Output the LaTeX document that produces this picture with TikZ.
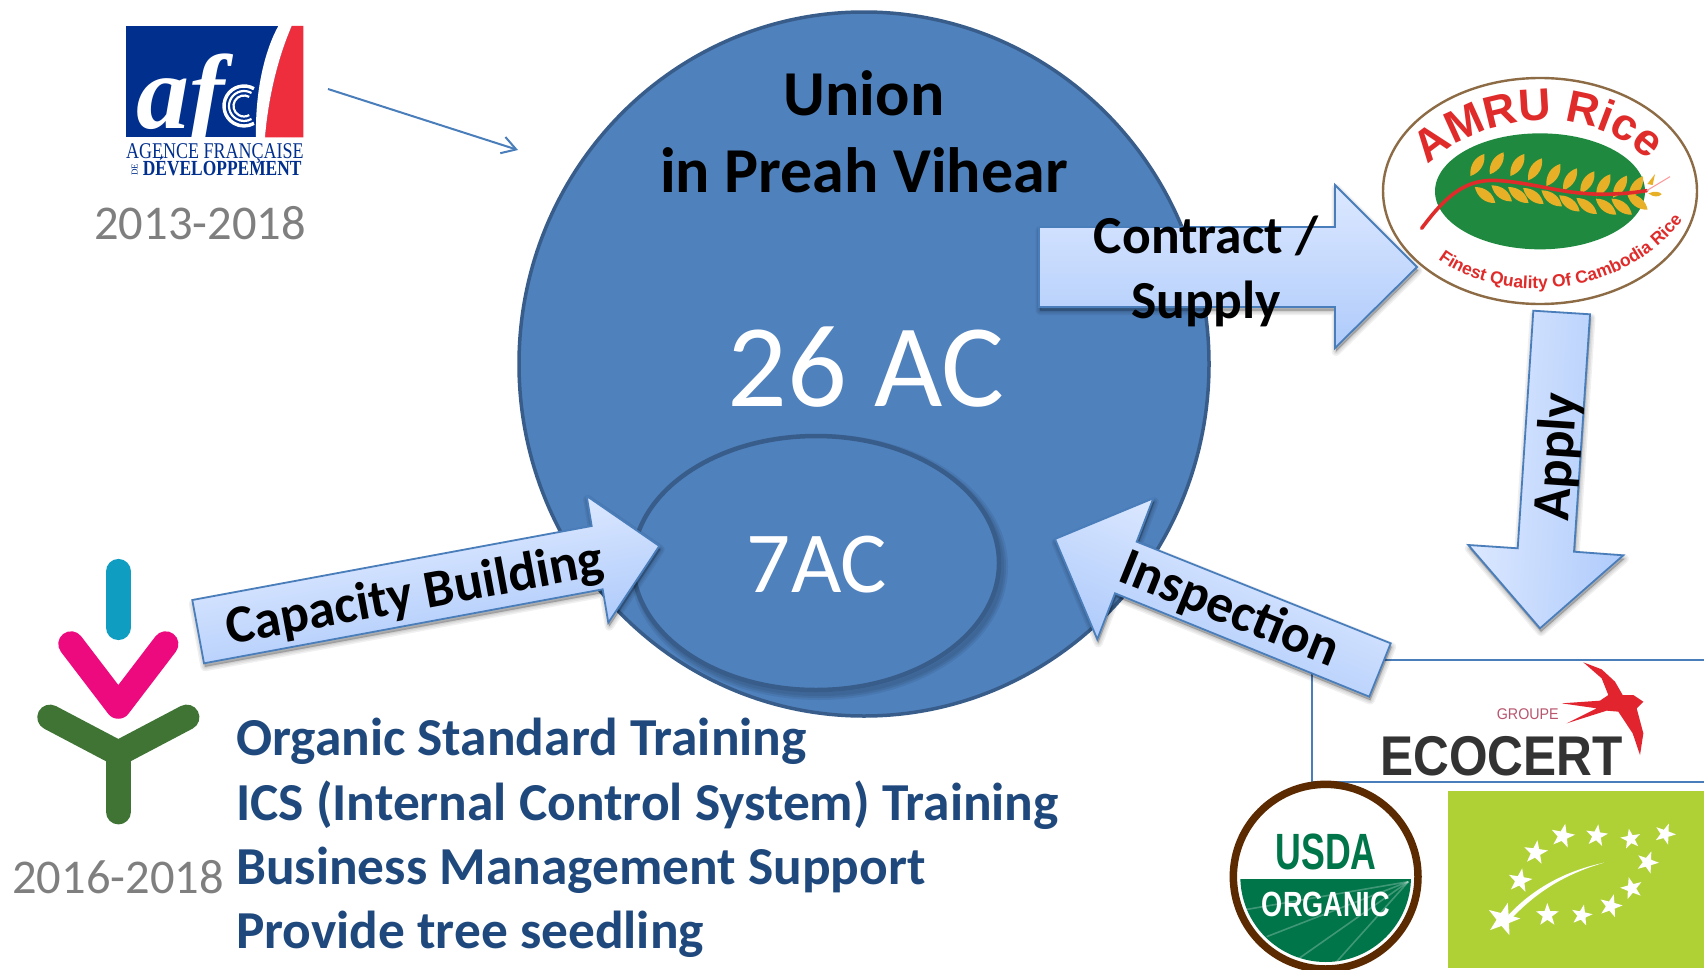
\documentclass[tikz,border=0pt]{standalone}
\usepackage{fontspec}
\setmainfont{Carlito}
\newfontfamily\libsans{Liberation Sans}
\newfontfamily\libserif{Liberation Serif}
\usetikzlibrary{shapes.geometric,decorations.text,arrows.meta}
\definecolor{circfill}{HTML}{4F81BD}
\definecolor{circline}{HTML}{385D8A}
\definecolor{armA}{HTML}{DCE8FF}
\definecolor{armB}{HTML}{AFCBFB}
\definecolor{armedge}{HTML}{4A7EBB}
\definecolor{navy}{HTML}{1F497D}
\definecolor{gtext}{HTML}{7F7F7F}
\definecolor{afdblue}{HTML}{002F8E}
\definecolor{afdred}{HTML}{EE2E3C}
\definecolor{amgreen}{HTML}{1F8A3F}
\definecolor{amred}{HTML}{E02B2B}
\definecolor{amgold}{HTML}{E8B026}
\definecolor{ambrown}{HTML}{8C6B45}
\definecolor{ecored}{HTML}{E2242F}
\definecolor{ecodark}{HTML}{333333}
\definecolor{ecomauve}{HTML}{B8566E}
\definecolor{usbrown}{HTML}{5C2A00}
\definecolor{usgreen}{HTML}{00754A}
\definecolor{eugreen}{HTML}{AFD136}
\definecolor{kteal}{HTML}{0F9DC2}
\definecolor{kpink}{HTML}{EC0A7E}
\definecolor{kgreen}{HTML}{3F7435}
\pgfdeclareverticalshading{shcontract}{1400bp}{color(0bp)=(armB);color(163bp)=(armA)}
\pgfdeclareverticalshading{shapply}{1400bp}{color(0bp)=(armB);color(155bp)=(armA)}
\pgfdeclareverticalshading{shcapacity}{1400bp}{color(0bp)=(armB);color(129bp)=(armA)}
\pgfdeclareverticalshading{shinspect}{1400bp}{color(0bp)=(armB);color(152bp)=(armA)}
\newcommand{\gradarrow}[5]{%
  \foreach \w in {9,6,3,1}{\draw[black,fill=black,opacity=.06,line width=\w pt,line join=round,shift={(1,3.5)}] #2;}
  \begin{scope}\clip #2; \node[rotate=#4,inner sep=0pt] (#1) at #3 {\pgfuseshading{#5}};\end{scope}
  \draw[armedge,line width=1.8pt,line join=miter] #2;}
\newcommand{\grain}[3]{\fill[amgold,shift={(#1,#2)},rotate=#3] (-13pt,0pt) .. controls (-4pt,7pt) and (6pt,6pt) .. (13pt,0pt) .. controls (6pt,-6pt) and (-4pt,-7pt) .. (-13pt,0pt);}
\tikzset{
  zoomed/.style args={#1/#2}{shift={(#1,#2)},x=.33333pt,y=-.33333pt},
  bigbold/.style={font=\fontsize{64}{76}\bfseries\selectfont,text=black,align=center,inner sep=0pt},
  armlabel/.style={font=\fontsize{53.5}{65}\bfseries\selectfont,text=black,align=center,inner sep=0pt},
  yearlabel/.style={font=\fontsize{48.5}{50}\selectfont,text=gtext,inner sep=0pt},
  starmark/.style={star,star points=5,star point ratio=2.5,fill=white,inner sep=0pt},
}
\begin{document}
\begin{tikzpicture}[x=1pt,y=-1pt]
\useasboundingbox (0,0) rectangle (1704,969);
\fill[white] (0,0) rectangle (1704,969);
\clip (0,0) rectangle (1704,969);

% main circle and inner ellipse
\node[ellipse,draw=circline,fill=circfill,line width=3.5pt,minimum width=690pt,minimum height=704pt,inner sep=0pt] (union) at (864,364) {};
\foreach \w in {12,8,4}{\draw[black,opacity=.07,line width=\w pt] (819,567) ellipse [x radius=183pt,y radius=127pt];}
\node[ellipse,draw=circline,fill=circfill,line width=4.5pt,minimum width=366pt,minimum height=254pt,inner sep=0pt] (seven) at (816,563) {};

% afd logo
\begin{scope}[zoomed=90/0]
  \fill[afdblue] (108,78) rectangle (640,412);
  \fill[afdred] (605,78) .. controls (565,170) and (535,290) .. (525,412) -- (640,412) -- (640,78) -- cycle;
  \node[anchor=base west,inner sep=0pt,text=white,font=\libserif\fontsize{106}{106}\bfseries\itshape\selectfont] (afdname) at (140,385) {af};
  \foreach \r/\lw in {20/3.4,15/2.2,10.5/2.2}{\draw[white,line width=\lw pt] ([shift={(462,318)}]60:\r pt) arc[start angle=60,end angle=300,radius=\r pt];}
  \fill[white] (565,78) .. controls (525,150) and (495,270) .. (498,412) -- (525,412) .. controls (535,290) and (565,170) .. (605,78) -- cycle;
  \node[anchor=base west,inner sep=0pt,text=afdblue,font=\libserif\fontsize{22.5}{22.5}\selectfont] (afdone) at (108,476) {\scalebox{.8}[1]{AGENCE FRANÇAISE}};
  \node[anchor=base west,inner sep=0pt,text=afdblue,font=\libserif\fontsize{21.5}{21.5}\bfseries\selectfont] (afdtwo) at (158,526) {\scalebox{.81}[1]{DÉVELOPPEMENT}};
  \node[rotate=90,inner sep=0pt,text=afdblue,font=\libserif\fontsize{9}{9}\selectfont] (afdde) at (134,510) {DE};
\end{scope}
\node[yearlabel] (yearone) at (200,223) {2013-2018};
\coordinate (linefrom) at (328,89);
\coordinate (lineto) at (518,150);
\draw[armedge,line width=2pt,-{Straight Barb[length=14pt,width=17pt,line width=2pt]}] (linefrom) -- (lineto);

% tree logo
\begin{scope}[zoomed=0/540,line cap=round,line join=round,line width=25.5pt]
  \draw[kteal] (355,95) -- (355,262);
  \draw[kpink] (213,312) -- (355,498) -- (497,312);
  \draw[kgreen] (150,532) -- (355,640) -- (560,532);
  \draw[kgreen] (355,640) -- (355,815);
\end{scope}
\node[yearlabel,anchor=base] (yeartwo) at (118,893) {2016-2018};

% AMRU Rice logo
\begin{scope}[zoomed=1360/60]
  \draw[ambrown,fill=white,line width=2.4pt] (540,393) ellipse [x radius=157pt,y radius=113pt];
  \fill[amgreen] (540,394) ellipse [x radius=105pt,y radius=58pt];
  \foreach \x/\y in {352/315,410/310,472/315,525/328,580/345,630/358,682/367,730/376,780/380,828/382}{\grain{\x}{\y}{58}}
  \foreach \x/\y in {375/405,425/400,475/405,520/408,575/415,628/430,680/438,738/440,785/440,832/425}{\grain{\x}{\y}{-38}}
  \draw[amred,line width=3.6pt,line cap=round] (185,505) .. controls (270,390) and (330,355) .. (420,362) .. controls (560,372) and (650,425) .. (860,392);
  \fill[amgold] (862,372) -- (885,342) -- (878,375) -- cycle;
  \fill[amgold] (865,400) .. controls (885,392) and (900,395) .. (905,403) .. controls (895,412) and (880,412) .. (865,400);
  \draw[red!40,line width=1pt] (860,392) -- (930,350);
  \path[decorate,decoration={text along path,text align=center,text={|\libsans\fontsize{45}{45}\bfseries\selectfont\color{amred}|AMRU Rice}}] (190,330) .. controls (330,175) and (680,100) .. (880,315);
  \path[decorate,decoration={text along path,text align=center,text={|\libsans\fontsize{17.5}{17.5}\bfseries\selectfont\color{amred}|Finest Quality Of Cambodia Rice}}] (225,590) .. controls (400,735) and (785,730) .. (975,470);
\end{scope}

% ECOCERT box
\node[draw=armedge,line width=2pt,fill=white,minimum width=420pt,minimum height=122pt,anchor=north west,inner sep=0pt] (ecobox) at (1311,659) {};
\begin{scope}[zoomed=1200/640]
  \fill[ecored] (1150,67) -- (1205,88) -- (1245,125) -- (1268,165) -- (1300,165) -- (1330,185) -- (1310,205) -- (1330,280) -- (1320,345) -- (1298,280) -- (1255,215) -- (1220,212) -- (1100,250) -- (1190,205) -- (1085,190) -- (1200,182) -- (1225,165) -- (1205,115) -- cycle;
  \node[anchor=base west,inner sep=0pt,text=ecomauve,font=\libsans\fontsize{15.5}{16}\selectfont] (groupe) at (890,238) {\scalebox{.92}[1]{GROUPE}};
  \node[anchor=base west,inner sep=0pt,text=ecodark,font=\libsans\fontsize{56}{56}\bfseries\selectfont] (ecocert) at (540,407) {\scalebox{.885}[1]{ECOCERT}};
\end{scope}

% USDA seal
\begin{scope}[zoomed=1200/640]
  \draw[usbrown,fill=white,line width=7.5pt] (377,710) circle [radius=277];
  \begin{scope}
    \clip (377,710) circle [radius=256];
    \fill[usgreen] (100,718) rectangle (650,1000);
    \foreach \a/\b in {130/810,200/890,290/960,410/965}{\draw[white,opacity=.25,line width=1.6pt] (625,725) -- (\a,\b);}
  \end{scope}
  \node[anchor=base,inner sep=0pt,text=usgreen,font=\libsans\fontsize{51}{51}\bfseries\selectfont] (usda) at (378,688) {\scalebox{.7}[1]{USDA}};
  \node[anchor=base,inner sep=0pt,text=white,font=\libsans\fontsize{35}{35}\bfseries\selectfont] (organic) at (378,829) {\scalebox{.775}[1]{ORGANIC}};
\end{scope}

% EU organic leaf
\fill[eugreen] (1448,791) rectangle (1704,968);
\begin{scope}[zoomed=1200/640]
  \foreach \x/\y/\s/\r in {1088/588/25/-12,1190/587/23/-8,1292/597/21/10,1395/582/22/-20,1342/667/23/-20,1295/745/23/15,1232/798/24/-15,1145/826/22/-12,1042/825/24/0,960/722/25/-10,1007/638/25/-8,910/838/34/-15}{
    \node[starmark,minimum size=\s pt,rotate=\r] (eu\x) at (\x,\y) {};}
  \fill[white] (925,825) .. controls (1010,735) and (1110,690) .. (1212,668) .. controls (1110,698) and (1020,745) .. (935,835) -- cycle;
\end{scope}

% block arrows
\gradarrow{contractarm}{(1039,227) -- (1335,227) -- (1335,185) -- (1417,267) -- (1335,348) -- (1335,307) -- (1039,307) -- cycle}{(1228,266.5)}{0}{shcontract}
\gradarrow{applyarm}{(1533.3,310.7) -- (1590,314.3) -- (1574,551.7) -- (1623.3,555.3) -- (1540,628.3) -- (1468.3,545) -- (1517.7,548.3) -- cycle}{(1551,470)}{86.2}{shapply}
\gradarrow{capacityarm}{(192.3,600) -- (591.7,526) -- (586.7,496) -- (659.3,546) -- (608.3,622.7) -- (602.7,589.3) -- (204,663.3) -- cycle}{(429,589)}{10.5}{shcapacity}
\gradarrow{inspectarm}{(1390.7,643.3) -- (1369.3,696.7) -- (1115,593.3) -- (1097.3,639.3) -- (1055,539) -- (1153.3,498.3) -- (1136.7,541.7) -- cycle}{(1217,604)}{-22}{shinspect}

% labels
\node[bigbold] (union1) at (864,93) {Union};
\node[bigbold] (union2) at (864,170) {in Preah Vihear};
\node[inner sep=0pt,text=white,font=\fontsize{118}{118}\selectfont] (twentysix) at (866,367) {26 AC};
\node[inner sep=0pt,text=white,font=\fontsize{87}{87}\selectfont] (sevenac) at (817,565) {7AC};
\node[armlabel] (contract) at (1206,271) {Contract /\\Supply};
\node[armlabel,rotate=86.2] (apply) at (1558,457) {Apply};
\node[armlabel,rotate=10.5] (capacity) at (415,596) {Capacity Building};
\node[armlabel,rotate=-22] (inspection) at (1229,610) {Inspection};
\node[anchor=west,align=left,inner sep=0pt,text=navy,font=\fontsize{53.4}{64.4}\bfseries\selectfont] (list) at (236,838) {Organic Standard Training\\ICS (Internal Control System) Training\\Business Management Support\\Provide tree seedling};
\end{tikzpicture}
\end{document}
